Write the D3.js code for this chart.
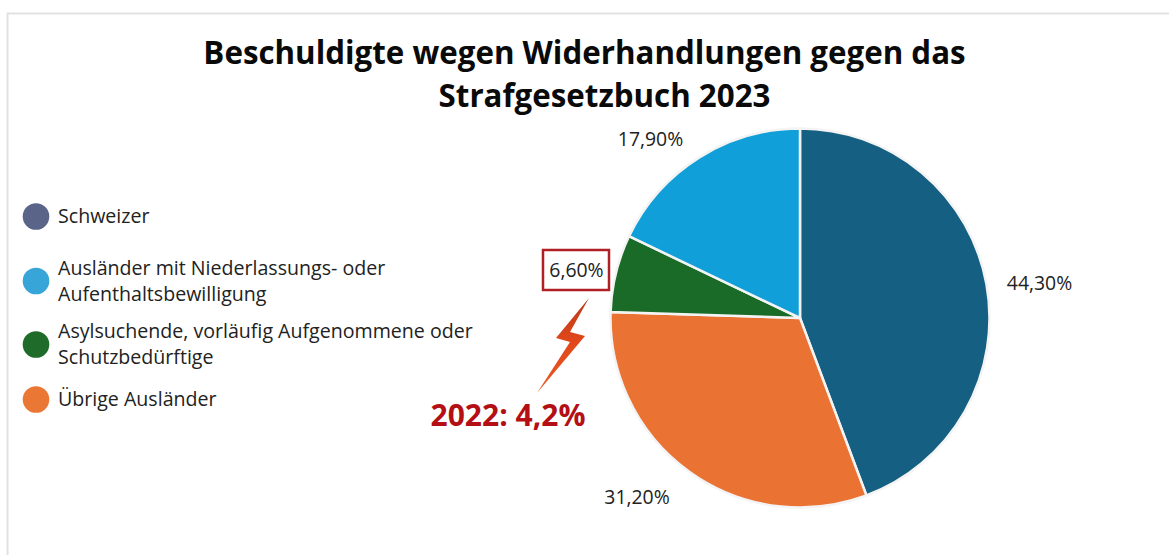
<!DOCTYPE html>
<html><head><meta charset="utf-8">
<script src="https://cdn.jsdelivr.net/npm/d3@7"></script>
<style>html,body{margin:0;padding:0;background:#fff;overflow:hidden}svg{display:block}text{font-family:"Open Sans",sans-serif}</style>
</head><body><svg id="c" width="1169" height="555"></svg>
<script>
const titleLines=["Beschuldigte wegen Widerhandlungen gegen das","Strafgesetzbuch 2023"];
const categories=["Schweizer","Übrige Ausländer","Asylsuchende, vorläufig Aufgenommene oder Schutzbedürftige","Ausländer mit Niederlassungs- oder Aufenthaltsbewilligung"];
const values=[44.3,31.2,6.6,17.9];
const valueLabels=["44,30%","31,20%","6,60%","17,90%"];
const sliceColors=["#155f82","#ea7233","#1a6b28","#109fd8"];
const legendLabels=[["Schweizer"],["Ausländer mit Niederlassungs- oder","Aufenthaltsbewilligung"],["Asylsuchende, vorläufig Aufgenommene oder","Schutzbedürftige"],["Übrige Ausländer"]];
const legendColors=["#5a6488","#38a5d8","#1e6b2a","#ea7733"];
const annotation="2022: 4,2%";

const svg=d3.select("#c");
const grad=svg.append("defs").append("linearGradient").attr("id","bolt").attr("x1",0).attr("y1",0).attr("x2",0).attr("y2",1);
grad.append("stop").attr("offset","0").attr("stop-color","#b83a1c");
grad.append("stop").attr("offset","0.45").attr("stop-color","#e0471a");
grad.append("stop").attr("offset","1").attr("stop-color","#ea5a24");
svg.append("path").attr("d","M7.5 555V13.5H1169").attr("fill","none").attr("stroke","#e2e2e2").attr("stroke-width",2);

svg.selectAll("text.title").data(titleLines).join("text").attr("class","title")
 .attr("x",(d,i)=>[584.5,604.5][i]).attr("y",(d,i)=>[64,107][i])
 .attr("text-anchor","middle").attr("font-size",31.3).attr("font-weight",700).attr("fill","#0a0a0a").text(d=>d);

const g=svg.append("g").attr("transform","translate(800,318)");
const R=189.5;
const pie=d3.pie().sort(null).value(d=>d)(values);
const arc=d3.arc().innerRadius(0).outerRadius(R);
g.selectAll("path").data(pie).join("path").attr("d",arc).attr("fill",(d,i)=>sliceColors[i])
 .attr("stroke","#f4f4f4").attr("stroke-width",2.5);

const labelPos=[[1039.5,283.5],[637,497.5],[576.5,270.5],[650.5,139.5]];
svg.selectAll("text.val").data(valueLabels).join("text").attr("class","val")
 .attr("x",(d,i)=>labelPos[i][0]).attr("y",(d,i)=>labelPos[i][1]).attr("dy","0.35em")
 .attr("text-anchor","middle").attr("font-size",19.4).attr("fill","#222").text(d=>d);

const legendY=[216.5,281,344.5,399.5];
const lg=svg.selectAll("g.leg").data(legendLabels).join("g").attr("class","leg").attr("transform",(d,i)=>`translate(0,${legendY[i]})`);
lg.append("circle").attr("cx",36).attr("cy",0).attr("r",13.3).attr("fill",(d,i)=>legendColors[i]);
lg.each(function(d){
  d3.select(this).selectAll("text").data(d).join("text").attr("x",58)
   .attr("y",(t,j)=>(j-(d.length-1)/2)*26).attr("dy","0.35em")
   .attr("font-size",19.6).attr("fill","#222").text(t=>t);
});

svg.append("rect").attr("x",543).attr("y",250).attr("width",66).attr("height",40).attr("fill","none").attr("stroke","#b01f24").attr("stroke-width",2.5);
const bolt=[[589,298],[556,338],[570,342],[537,393],[585,336],[570,332]];
svg.append("path").attr("d",d3.line()(bolt)+"Z").attr("fill","url(#bolt)");
svg.append("text").attr("x",508).attr("y",426).attr("text-anchor","middle").attr("font-size",30).attr("font-weight",700).attr("fill","#b30f14").text(annotation);
</script></body></html>
